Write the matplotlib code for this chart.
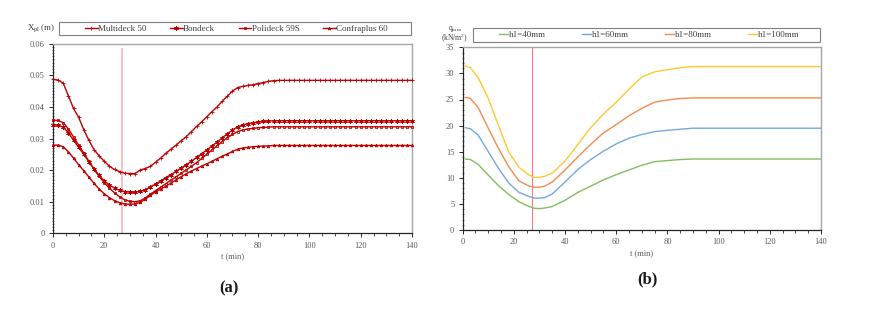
import matplotlib
matplotlib.use("Agg")
import matplotlib.pyplot as plt
from matplotlib.ticker import MultipleLocator, FormatStrFormatter
from matplotlib.patches import Rectangle

plt.rcParams['font.family'] = ['Liberation Serif', 'DejaVu Serif']

# ---------------- data (a) ----------------
t_a = list(range(0, 141, 2))
multideck = [0.0487, 0.0485, 0.0475, 0.0435, 0.0395, 0.0367, 0.0328, 0.0294, 0.0265, 0.0245,
             0.0228, 0.0212, 0.0202, 0.0195, 0.0190, 0.0189, 0.0189, 0.0200, 0.0205, 0.0212,
             0.0225, 0.0238, 0.0253, 0.0266, 0.0279, 0.0293, 0.0306, 0.0322, 0.0338, 0.0353,
             0.0369, 0.0385, 0.0400, 0.0418, 0.0434, 0.0450, 0.0461, 0.0465, 0.0468, 0.0470,
             0.0474, 0.0477, 0.0481, 0.0483,
             0.0484, 0.0484, 0.0484, 0.0484, 0.0484, 0.0484, 0.0484, 0.0484, 0.0484, 0.0484,
             0.0484, 0.0484, 0.0484, 0.0484, 0.0484, 0.0484, 0.0484, 0.0484, 0.0484, 0.0484,
             0.0484, 0.0484, 0.0484, 0.0484, 0.0484, 0.0484, 0.0484]
bondeck = [0.0343, 0.0342, 0.0336, 0.0318, 0.0295, 0.0272, 0.0250, 0.0226, 0.0203, 0.0183,
           0.0166, 0.0153, 0.0143, 0.0136, 0.0132, 0.0130, 0.0130, 0.0133, 0.0138, 0.0147,
           0.0156, 0.0166, 0.0176, 0.0186, 0.0196, 0.0207, 0.0217, 0.0228, 0.0240, 0.0252,
           0.0264, 0.0276, 0.0289, 0.0302, 0.0315, 0.0327, 0.0337, 0.0343, 0.0347, 0.0350,
           0.0352, 0.0354, 0.0355, 0.0356,
           0.0356, 0.0356, 0.0356, 0.0356, 0.0356, 0.0356, 0.0356, 0.0356, 0.0356, 0.0356,
           0.0356, 0.0356, 0.0356, 0.0356, 0.0356, 0.0356, 0.0356, 0.0356, 0.0356, 0.0356,
           0.0356, 0.0356, 0.0356, 0.0356, 0.0356, 0.0356, 0.0356]
polideck = [0.0358, 0.0357, 0.0350, 0.0330, 0.0305, 0.0279, 0.0254, 0.0228, 0.0203, 0.0180,
            0.0160, 0.0143, 0.0128, 0.0115, 0.0106, 0.0101, 0.0100, 0.0103, 0.0112, 0.0124,
            0.0135, 0.0146, 0.0157, 0.0168, 0.0179, 0.0190, 0.0201, 0.0212, 0.0224, 0.0237,
            0.0250, 0.0264, 0.0277, 0.0290, 0.0302, 0.0313, 0.0322, 0.0327, 0.0330, 0.0332,
            0.0334, 0.0335, 0.0336, 0.0337,
            0.0337, 0.0337, 0.0337, 0.0337, 0.0337, 0.0337, 0.0337, 0.0337, 0.0337, 0.0337,
            0.0337, 0.0337, 0.0337, 0.0337, 0.0337, 0.0337, 0.0337, 0.0337, 0.0337, 0.0337,
            0.0337, 0.0337, 0.0337, 0.0337, 0.0337, 0.0337, 0.0337]
confraplus = [0.0279, 0.0279, 0.0274, 0.0258, 0.0238, 0.0217, 0.0198, 0.0178, 0.0158, 0.0140,
              0.0125, 0.0113, 0.0103, 0.0097, 0.0093, 0.0092, 0.0093, 0.0098, 0.0108, 0.0120,
              0.0131, 0.0140, 0.0149, 0.0159, 0.0169, 0.0179, 0.0189, 0.0197, 0.0205, 0.0213,
              0.0220, 0.0228, 0.0236, 0.0244, 0.0251, 0.0259, 0.0266, 0.0270, 0.0272, 0.0274,
              0.0275, 0.0276, 0.0277, 0.0278,
              0.0278, 0.0278, 0.0278, 0.0278, 0.0278, 0.0278, 0.0278, 0.0278, 0.0278, 0.0278,
              0.0278, 0.0278, 0.0278, 0.0278, 0.0278, 0.0278, 0.0278, 0.0278, 0.0278, 0.0278,
              0.0278, 0.0278, 0.0278, 0.0278, 0.0278, 0.0278, 0.0278]
labels_a = ["Multideck 50", "Bondeck", "Polideck 59S", "Confraplus 60"]

# ---------------- data (b) ----------------
t_b = [1, 3, 6, 10, 14, 18, 22, 26, 28, 30, 32, 35, 40, 45, 50, 55, 60, 65, 70, 75,
       80, 85, 90, 100, 110, 120, 130, 140]
h40 = [13.6, 13.5, 12.6, 10.5, 8.5, 6.8, 5.4, 4.5, 4.15, 4.1, 4.2, 4.5, 5.7, 7.2, 8.4, 9.6,
       10.6, 11.5, 12.4, 13.1, 13.3, 13.5, 13.6, 13.6, 13.6, 13.6, 13.6, 13.6]
h60 = [19.6, 19.4, 18.2, 15.0, 11.8, 9.0, 7.2, 6.4, 6.1, 6.1, 6.2, 6.9, 9.2, 11.6, 13.5, 15.1,
       16.5, 17.6, 18.3, 18.85, 19.1, 19.3, 19.5, 19.5, 19.5, 19.5, 19.5, 19.5]
h80 = [25.4, 25.2, 23.5, 19.5, 15.6, 12.1, 9.4, 8.4, 8.2, 8.2, 8.4, 9.2, 11.5, 14.0, 16.4, 18.6,
       20.2, 21.9, 23.3, 24.5, 24.9, 25.2, 25.3, 25.3, 25.3, 25.3, 25.3, 25.3]
h100 = [31.4, 31.1, 29.2, 25.2, 20.0, 14.9, 12.0, 10.5, 10.1, 10.1, 10.3, 10.9, 13.2, 16.4, 19.6, 22.2,
        24.5, 27.0, 29.3, 30.3, 30.7, 31.1, 31.3, 31.3, 31.3, 31.3, 31.3, 31.3]
labels_b = ["h1=40mm", "h1=60mm", "h1=80mm", "h1=100mm"]
t_mark = 27

W, H = 879, 319
fig = plt.figure(figsize=(W / 100, H / 100), dpi=100)

def fx(px):
    return px / W

def fy(py):
    return 1 - py / H

TICK_C = '#595959'
FS = 6

def style_axes(ax):
    for s in ['top', 'right']:
        ax.spines[s].set_color('#A6A6A6')
        ax.spines[s].set_linewidth(1.0)
    for s in ['left', 'bottom']:
        ax.spines[s].set_color('#262626')
        ax.spines[s].set_linewidth(0.9)
    ax.tick_params(axis='both', which='major', labelsize=FS, labelcolor=TICK_C,
                   color='#262626', length=3, width=0.7, direction='out', pad=3)
    ax.tick_params(axis='y', which='minor', length=1.6, width=0.45, direction='inout', color='#404040')
    ax.tick_params(axis='x', which='minor', length=2.5, width=0.6, direction='out', color='#262626')
    ax.set_xlim(0, 140)
    ax.xaxis.set_major_locator(MultipleLocator(20))
    ax.xaxis.set_minor_locator(MultipleLocator(5))

def legend_box(x0, y0, x1, y1):
    fig.patches.append(Rectangle((fx(x0), fy(y1)), fx(x1 - x0), (y1 - y0) / H,
                                 transform=fig.transFigure, fill=False,
                                 edgecolor='#7F7F7F', linewidth=0.8, figure=fig))

# ---------------- (a) ----------------
ax1 = fig.add_axes([fx(53), fy(233.3), fx(359), 189.6 / H])
style_axes(ax1)
red = '#C00000'
ax1.axvline(t_mark, ymin=0, ymax=0.972, color='#F2B8B8', lw=1.2, zorder=1)
series_a = [multideck, bondeck, polideck, confraplus]
markers = ['+', (6, 2, 0), 's', '^']
msizes = [3.2, 3.2, 1.7, 1.8]
mfcs = [red, red, 'none', red]
handles = []
for vals, lab, mk, ms, mfc in zip(series_a, labels_a, markers, msizes, mfcs):
    h, = ax1.plot(t_a, vals, color=red, lw=1.0, marker=mk, markersize=ms,
                  markeredgewidth=0.6, markerfacecolor=mfc, markeredgecolor=red,
                  label=lab, zorder=3, clip_on=False)
    handles.append(h)
ax1.set_ylim(0, 0.06)
ax1.yaxis.set_major_locator(MultipleLocator(0.01))
ax1.yaxis.set_minor_locator(MultipleLocator(0.001))
ax1.yaxis.set_major_formatter(FormatStrFormatter('%g'))
ax1.set_xlabel('t (min)', fontsize=FS, color=TICK_C, labelpad=2)

legend_box(59, 22, 411, 35)
leg1 = fig.legend(handles, labels_a, loc='center', ncol=4,
                  bbox_to_anchor=(fx(236.5), fy(28.5)),
                  fontsize=FS + 0.5, frameon=False,
                  handlelength=1.4, handletextpad=0.05, columnspacing=2.6,
                  borderpad=0, borderaxespad=0)
for tx in leg1.get_texts():
    tx.set_color('#404040')
fig.text(fx(27), fy(28.5), r'X$_{\mathregular{pl}}$ (m)', fontsize=FS + 0.5, color='#404040',
         ha='left', va='center')

# ---------------- (b) ----------------
ax2 = fig.add_axes([fx(462.7), fy(230), fx(358.3), 182.7 / H])
style_axes(ax2)
ax2.axvline(t_mark, color='#F08080', lw=0.8, zorder=1)
cols = ['#84BD5E', '#72A9DE', '#F08C50', '#FFC830']
handles2 = []
for vals, lab, c in zip([h40, h60, h80, h100], labels_b, cols):
    h, = ax2.plot(t_b, vals, color=c, lw=1.0, label=lab, zorder=3)
    handles2.append(h)
ax2.set_ylim(0, 35)
ax2.yaxis.set_major_locator(MultipleLocator(5))
ax2.yaxis.set_minor_locator(MultipleLocator(1))
ax2.set_xlabel('t (min)', fontsize=FS, color=TICK_C, labelpad=2)

legend_box(473, 27.7, 820, 41.7)
leg2 = fig.legend(handles2, labels_b, loc='center', ncol=4,
                  bbox_to_anchor=(fx(649), fy(34.7)),
                  fontsize=FS + 0.5, frameon=False,
                  handlelength=1.0, handletextpad=0.1, columnspacing=4.0,
                  borderpad=0, borderaxespad=0)
for tx in leg2.get_texts():
    tx.set_color('#404040')
fig.text(fx(455), fy(28.5), r'q$_{\mathregular{mm}}$', fontsize=5.5, color='#404040',
         ha='center', va='center')
fig.text(fx(455), fy(38.5), r'(kN/m$^{\mathregular{2}}$)', fontsize=5.5, color='#404040',
         ha='center', va='center')

# captions
fig.text(fx(229), fy(288), '(a)', fontsize=12, fontweight='bold', ha='center', va='center',
         color='#1a1a1a')
fig.text(fx(647), fy(279), '(b)', fontsize=12, fontweight='bold', ha='center', va='center',
         color='#1a1a1a')

fig.savefig('out.png', dpi=100, facecolor='white')
